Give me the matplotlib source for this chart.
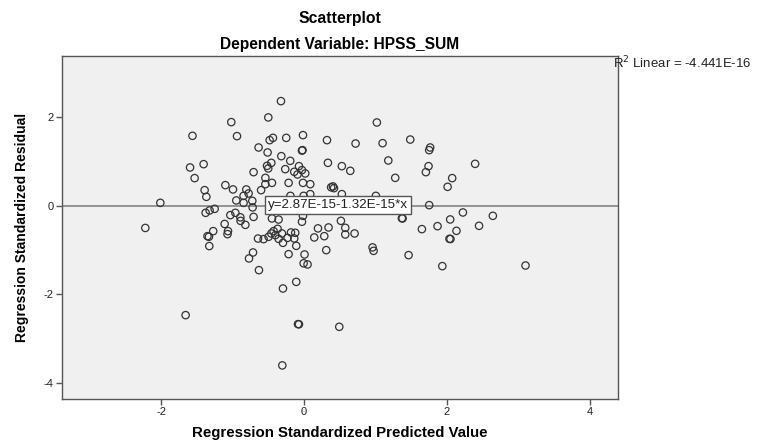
import matplotlib
matplotlib.use("Agg")
import matplotlib.pyplot as plt
import numpy as np

plt.rcParams['font.family'] = ['Liberation Sans', 'DejaVu Sans']

pred = [
    -1.017, -1.56, -0.937, -0.635, -1.594, -1.404, -1.53, -0.705, -1.39, -1.366,
    -1.10, -0.993, -0.807, -0.775, -0.845, -0.947, -0.845, -0.723, -0.719, -2.01,
    -0.60, -1.376, -1.32, -1.25, -0.96, -1.03, -0.89, -0.887, -0.705, -1.11,
    -0.82, -2.22, -1.27, -1.35, -1.33, -1.325, -1.063, -1.07, -0.643, -0.713,
    -0.769, -0.63, -1.656,
    -0.322, -0.499, -0.48, -0.434, -0.248, -0.014, -0.509, -0.028, -0.02, 0.322,
    0.722, 1.02, 1.10, 1.18, 1.277, -0.317, -0.192, -0.457, -0.517, -0.50,
    -0.262, -0.07, -0.136, -0.09, -0.028, 0.018, 0.335, 0.53, 0.648, -0.54,
    -0.54, -0.448, -0.215, -0.014, 0.088, 0.38, 0.405, 0.42, 0.53, 1.006,
    -0.19, -0.005, 0.088, -0.448, -0.355, -0.028, -0.014,
    -0.565, -0.495, -0.457, -0.425, -0.369, -0.40, -0.308, -0.355, -0.294, -0.229,
    -0.182, -0.122, -0.136, -0.108, -0.215, 0.008, -0.005, 0.05, -0.108, -0.294,
    -0.084, -0.07, 0.494, -0.303, 0.196, 0.344, 0.144, 0.284, 0.312, 0.517,
    0.578, 0.578, 0.708, 0.96, 0.974,
    1.487, 1.766, 1.752, 1.743, 1.706, 2.395, 2.074, 2.01, 1.752, 1.38,
    1.37, 2.224, 2.046, 1.869, 1.65, 2.134, 2.45, 2.643, 2.036, 2.05,
    1.464, 1.936, 3.10,
]
resid = [
    1.894, 1.584, 1.577, 1.32, 0.868, 0.943, 0.627, 0.762, 0.355, 0.204,
    0.468, 0.371, 0.371, 0.28, 0.226, 0.122, 0.068, 0.113, -0.036, 0.068,
    0.355, -0.158, -0.104, -0.068, -0.158, -0.21, -0.26, -0.34, -0.25, -0.41,
    -0.43, -0.50, -0.572, -0.686, -0.70, -0.91, -0.572, -0.64, -0.74, -1.055,
    -1.19, -1.455, -2.473,
    2.369, 2.0, 1.486, 1.538, 1.538, 1.60, 1.208, 1.25, 1.26, 1.486,
    1.41, 1.886, 1.418, 1.026, 0.633, 1.124, 1.018, 0.973, 0.905, 0.846,
    0.83, 0.898, 0.77, 0.71, 0.808, 0.733, 0.973, 0.898, 0.792, 0.633,
    0.49, 0.52, 0.52, 0.52, 0.49, 0.42, 0.44, 0.40, 0.265, 0.226,
    0.226, 0.226, 0.265, -0.285, -0.31, -0.36, -0.226,
    -0.753, -0.70, -0.625, -0.572, -0.52, -0.663, -0.625, -0.746, -0.837, -0.724,
    -0.602, -0.61, -0.738, -0.905, -1.093, -1.10, -1.30, -1.326, -1.72, -1.87,
    -2.676, -2.68, -2.737, -3.61, -0.51, -0.489, -0.715, -0.686, -1.002, -0.339,
    -0.497, -0.648, -0.625, -0.94, -1.018,
    1.50, 1.32, 1.26, 0.898, 0.762, 0.95, 0.627, 0.43, 0.016, -0.285,
    -0.28, -0.15, -0.308, -0.46, -0.527, -0.565, -0.452, -0.226, -0.746, -0.75,
    -1.115, -1.364, -1.35,
]

intercept = 2.87e-15
slope = -1.32e-15
title1 = "Scatterplot"
title2 = "Dependent Variable: HPSS_SUM"
xlabel = "Regression Standardized Predicted Value"
ylabel = "Regression Standardized Residual"
fit_label = "y=2.87E-15-1.32E-15*x"
r2_label = "R$^2$ Linear = -4.441E-16"
xticks = [-2, 0, 2, 4]
yticks = [-4, -2, 0, 2]

W, H = 757, 446
fig = plt.figure(figsize=(W / 100, H / 100), dpi=100)
fig.patch.set_facecolor('white')
l, r, t, b = 61.7, 617.7, 56, 399
ax = fig.add_axes([l / W, 1 - b / H, (r - l) / W, (b - t) / H])
ax.set_facecolor('#F0F0F0')

xlim = (-3.39, 4.39)
ylim = (-4.37, 3.39)
ax.set_xlim(*xlim)
ax.set_ylim(*ylim)

xs = np.array(xlim)
ax.plot(xs, intercept + slope * xs, color='#7a7a7a', lw=1.1, zorder=2)

ax.scatter(pred, resid, s=28, facecolors='none', edgecolors='#333333',
           linewidths=0.9, zorder=3)

ax.text(0.47, 0.015, fit_label, fontsize=9.6, color='#222222', ha='center',
        va='center', zorder=5,
        bbox=dict(boxstyle='square,pad=0.22', facecolor='white',
                  edgecolor='#555555', linewidth=1.0))

for s in ax.spines.values():
    s.set_color('#555555')
    s.set_linewidth(1.0)

ax.set_xticks(xticks)
ax.set_yticks(yticks)
ax.set_xticklabels([str(v) for v in xticks])
ax.set_yticklabels([str(v) for v in yticks])
ax.tick_params(direction='out', length=4, width=1, color='#555555',
               labelsize=8, labelcolor='#222222', pad=2)

ax.set_xlabel(xlabel, fontsize=10.8, fontweight='bold', labelpad=6)
ax.set_ylabel(ylabel, fontsize=10, fontweight='bold', labelpad=10)

cx = ((l + r) / 2) / W
fig.text(cx, 1 - 18 / H, title1, ha='center', va='center', fontsize=11.3,
         fontweight='bold')
fig.text(cx, 1 - 45 / H, title2, ha='center', va='center', fontsize=11.2,
         fontweight='bold')
fig.text(613 / W, 1 - 63 / H, r2_label, ha='left', va='center', fontsize=9.5,
         color='#222222')

fig.savefig('out.png', dpi=100)
